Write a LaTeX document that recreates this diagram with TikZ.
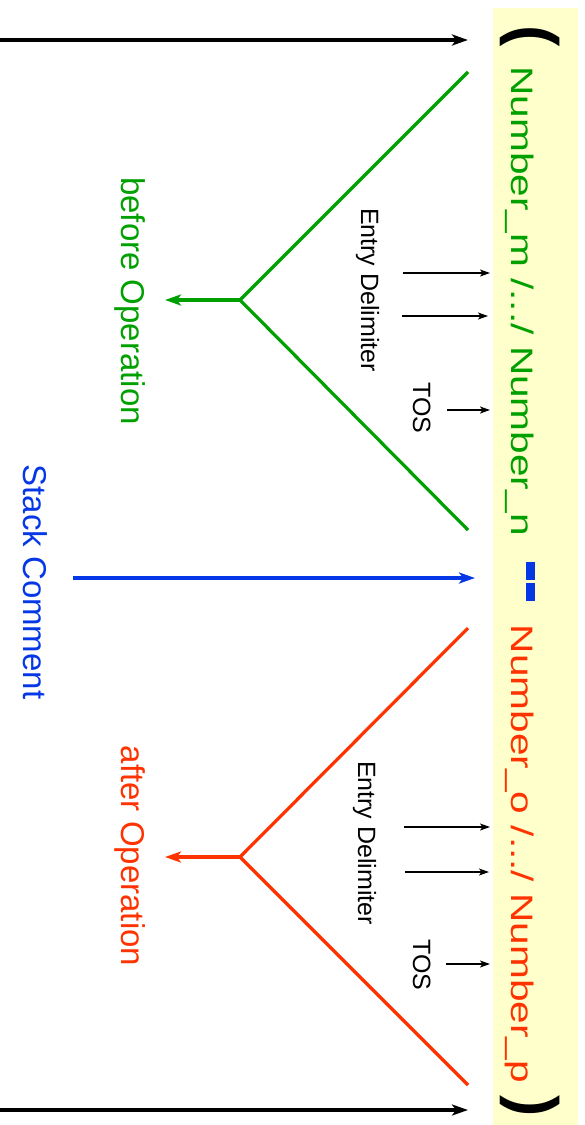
\documentclass[tikz,border=0pt]{standalone}
\usepackage{fontspec}
\setmainfont{Liberation Sans}
\newfontfamily\widefont[FakeStretch=1.31]{Liberation Sans}
\usetikzlibrary{arrows.meta}
\definecolor{cgreen}{RGB}{0,160,0}
\definecolor{corange}{RGB}{255,51,0}
\definecolor{cblue}{RGB}{5,55,230}
\definecolor{cyellow}{RGB}{255,255,204}
\tikzset{
  rot/.style={rotate=-90, inner sep=0pt, outer sep=0pt},
  mainlabel/.style={rot, anchor=base, font=\widefont\fontsize{31bp}{31bp}\selectfont},
  parenlabel/.style={rot, anchor=center, font=\bfseries\fontsize{64bp}{64bp}\selectfont},
  sidelabel/.style={rot, anchor=base, font=\fontsize{33bp}{33bp}\selectfont},
  smalllabel/.style={rot, anchor=base, font=\fontsize{25bp}{25bp}\selectfont},
  bigarrow/.style={line width=3.2bp, -{Stealth[length=16bp,width=11bp,inset=4bp]}},
  vline/.style={line width=3.2bp},
  smallarrow/.style={line width=1.3bp, -{Stealth[length=10bp,width=7bp,inset=2.5bp]}},
  dashbar/.style={fill=cblue, inner sep=0pt, minimum width=9bp, minimum height=18bp}
}
\begin{document}
\begin{tikzpicture}[x=1bp, y=-1bp]
\useasboundingbox (0,0) rectangle (585,1125);
% yellow band
\fill[cyellow] (493,8) rectangle (578,1125);
% stack comment text
\node[parenlabel] (lp) at (530,36) {(};
\node[mainlabel, text=cgreen] (before) at (511,301) {Number\_m /.../ Number\_n};
\node[dashbar] (d1) at (530.5,571) {};
\node[dashbar] (d2) at (530.5,592) {};
\node[mainlabel, text=corange] (after) at (511,854) {Number\_o /.../ Number\_p};
\node[parenlabel] (rp) at (530,1106) {)};
% top and bottom black arrows
\coordinate (tl) at (0,40);
\coordinate (tr) at (468,40);
\coordinate (bl) at (0,1110);
\coordinate (br) at (468,1110);
\draw[bigarrow, black] (tl) -- (tr);
\draw[bigarrow, black] (bl) -- (br);
% green V
\coordinate (g1) at (468,72);
\coordinate (gv) at (240,300);
\coordinate (g2) at (468,530);
\coordinate (gl) at (165,300);
\draw[vline, cgreen] (g1) -- (gv) -- (g2);
\draw[bigarrow, cgreen] (gv) -- (gl);
\node[sidelabel, text=cgreen] (blab) at (121,301) {before Operation};
% orange V
\coordinate (o1) at (468,628);
\coordinate (ov) at (240,857);
\coordinate (o2) at (468,1085);
\coordinate (ol) at (165,857);
\draw[vline, corange] (o1) -- (ov) -- (o2);
\draw[bigarrow, corange] (ov) -- (ol);
\node[sidelabel, text=corange] (alab) at (121,856) {after Operation};
% blue
\coordinate (bs) at (73,578);
\coordinate (be) at (475,578);
\draw[bigarrow, cblue] (bs) -- (be);
\node[sidelabel, text=cblue] (sc) at (23,582) {Stack Comment};
% upper small arrows
\node[smalllabel] (ed1) at (361,290) {Entry Delimiter};
\node[smalllabel] (tos1) at (413,408) {TOS};
\coordinate (a1s) at (403,273); \coordinate (a1e) at (490,273);
\coordinate (a2s) at (402,316); \coordinate (a2e) at (488,316);
\coordinate (a3s) at (447,410); \coordinate (a3e) at (490,410);
\draw[smallarrow] (a1s) -- (a1e);
\draw[smallarrow] (a2s) -- (a2e);
\draw[smallarrow] (a3s) -- (a3e);
% lower small arrows
\node[smalllabel] (ed2) at (358,843) {Entry Delimiter};
\node[smalllabel] (tos2) at (413,965) {TOS};
\coordinate (b1s) at (404,827); \coordinate (b1e) at (490,827);
\coordinate (b2s) at (405,872); \coordinate (b2e) at (489,872);
\coordinate (b3s) at (446,964); \coordinate (b3e) at (490,964);
\draw[smallarrow] (b1s) -- (b1e);
\draw[smallarrow] (b2s) -- (b2e);
\draw[smallarrow] (b3s) -- (b3e);
\end{tikzpicture}
\end{document}
